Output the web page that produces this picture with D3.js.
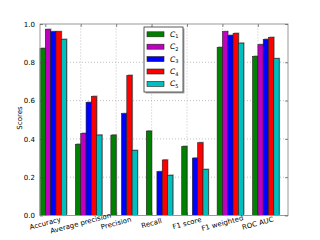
<!DOCTYPE html>
<html>
<head>
<meta charset="utf-8">
<script src="https://cdn.jsdelivr.net/npm/d3@7"></script>
<style>
body { margin: 0; background: #fff; }
text { font-family: "DejaVu Sans", sans-serif; }
</style>
</head>
<body>
<div id="chart"></div>
<script>
// metrics and classifier scores
var metrics = ["Accuracy", "Average precision", "Precision", "Recall", "F1 score", "F1 weighted", "ROC AUC"];
var series = ["1", "2", "3", "4", "5"];
var colors = ["#008000", "#bf00bf", "#0000ff", "#ff0000", "#00bfbf"];
var c1 = [0.873, 0.372, 0.42, 0.441, 0.361, 0.878, 0.831];
var c2 = [0.972, 0.429, 0, 0, 0, 0.96, 0.892];
var c3 = [0.96, 0.591, 0.532, 0.229, 0.30, 0.941, 0.92];
var c4 = [0.96, 0.622, 0.732, 0.29, 0.38, 0.951, 0.93];
var c5 = [0.92, 0.42, 0.34, 0.21, 0.241, 0.90, 0.819];
var values = [c1, c2, c3, c4, c5];
var yTicks = [0.0, 0.2, 0.4, 0.6, 0.8, 1.0];

var W = 320, H = 240;
var barW = 0.15;

var svg = d3.select("#chart").append("svg")
	.attr("width", W)
	.attr("height", H);

var x = d3.scaleLinear().domain([0, 7]).range([40, 288]);
var y = d3.scaleLinear().domain([0, 1]).range([215.5, 24]);

// grid
var grid = svg.append("g")
	.attr("stroke", "#999")
	.attr("stroke-width", 0.6)
	.attr("stroke-dasharray", "1,2");
grid.selectAll(".gy").data(yTicks.slice(1, 5)).enter().append("line")
	.attr("x1", x(0)).attr("x2", x(7))
	.attr("y1", function(d) { return y(d); })
	.attr("y2", function(d) { return y(d); });
grid.selectAll(".gx").data(metrics).enter().append("line")
	.attr("x1", function(d, i) { return x(i + barW); })
	.attr("x2", function(d, i) { return x(i + barW); })
	.attr("y1", y(0)).attr("y2", y(1));

// bars with a light shadow
values.forEach(function(vals, s) {
	var g = svg.append("g");
	g.selectAll(".sh").data(vals).enter().append("rect")
		.attr("x", function(d, i) { return x(i + s * barW) + 1; })
		.attr("y", function(d) { return y(d) - 1; })
		.attr("width", x(barW) - x(0))
		.attr("height", function(d) { return d > 0 ? y(0) - y(d) : 0; })
		.attr("fill", "#aaa");
	g.selectAll(".bar").data(vals).enter().append("rect")
		.attr("x", function(d, i) { return x(i + s * barW); })
		.attr("y", function(d) { return y(d); })
		.attr("width", x(barW) - x(0))
		.attr("height", function(d) { return d > 0 ? y(0) - y(d) : 0; })
		.attr("fill", colors[s])
		.attr("stroke", "#222")
		.attr("stroke-width", 0.6);
});

// frame
svg.append("rect")
	.attr("x", x(0)).attr("y", y(1))
	.attr("width", x(7) - x(0))
	.attr("height", y(0) - y(1))
	.attr("fill", "none")
	.attr("stroke", "#999")
	.attr("stroke-width", 1);

// y axis
var yAxis = d3.axisLeft(y).tickValues(yTicks).tickFormat(d3.format(".1f")).tickSize(-3).tickPadding(5);
var ya = svg.append("g").attr("transform", "translate(" + x(0) + ",0)").call(yAxis);
ya.select(".domain").remove();
ya.selectAll("line").attr("stroke", "#444").attr("stroke-width", 0.6);
ya.selectAll("text").attr("font-size", 7).attr("fill", "#000");
var yr = d3.axisRight(y).tickValues(yTicks).tickFormat("").tickSize(-3);
var yra = svg.append("g").attr("transform", "translate(" + x(7) + ",0)").call(yr);
yra.select(".domain").remove();
yra.selectAll("line").attr("stroke", "#444").attr("stroke-width", 0.6);

// x axis
var xAxis = d3.axisBottom(x).tickValues(d3.range(7).map(function(i) { return i + barW; }))
	.tickFormat(function(d, i) { return metrics[i]; }).tickSize(-3);
var xa = svg.append("g").attr("transform", "translate(0," + y(0) + ")").call(xAxis);
xa.select(".domain").remove();
xa.selectAll("line").attr("stroke", "#444").attr("stroke-width", 0.6);
xa.selectAll("text")
	.attr("font-size", 7)
	.attr("fill", "#000")
	.attr("y", 0).attr("dy", 0)
	.attr("text-anchor", "middle")
	.attr("transform", "translate(0,10) rotate(-15)");
var xt = d3.axisTop(x).tickValues(d3.range(7).map(function(i) { return i + barW; })).tickFormat("").tickSize(-3);
var xta = svg.append("g").attr("transform", "translate(0," + y(1) + ")").call(xt);
xta.select(".domain").remove();
xta.selectAll("line").attr("stroke", "#444").attr("stroke-width", 0.6);

// y label
svg.append("text")
	.attr("transform", "translate(22,118) rotate(-90)")
	.attr("text-anchor", "middle")
	.attr("font-size", 7)
	.text("Scores");

// legend
var lg = svg.append("g").attr("transform", "translate(144,27)");
lg.append("rect").attr("x", 1.5).attr("y", 1.5).attr("width", 39).attr("height", 65).attr("fill", "#aaa");
lg.append("rect").attr("x", 0).attr("y", 0).attr("width", 39).attr("height", 65)
	.attr("fill", "#fff").attr("stroke", "#333").attr("stroke-width", 0.8);
var rows = lg.selectAll(".row").data(series).enter().append("g")
	.attr("transform", function(d, i) { return "translate(0," + (7.3 + i * 12.4) + ")"; });
rows.append("rect").attr("x", 3).attr("y", -2.5).attr("width", 17).attr("height", 5)
	.attr("fill", function(d, i) { return colors[i]; })
	.attr("stroke", "#222").attr("stroke-width", 0.6);
var lt = rows.append("text").attr("x", 26).attr("y", 2.5)
	.attr("font-family", "'DejaVu Serif', serif")
	.attr("font-style", "italic")
	.attr("font-size", 7.5);
lt.append("tspan").text("C");
lt.append("tspan").attr("font-size", 5).attr("dy", 1.5).attr("font-style", "normal").text(function(d) { return d; });
</script>
</body>
</html>
